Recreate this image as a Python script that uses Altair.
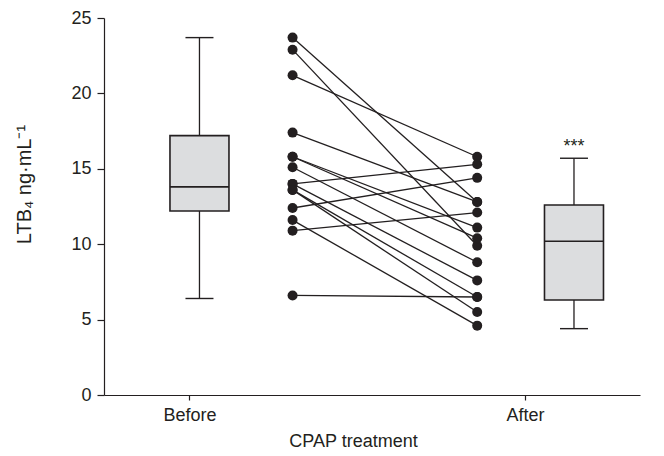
import altair as alt
import pandas as pd

# ---- data ----
groups = ["Before", "After"]
before = [23.7, 22.9, 21.2, 17.4, 15.8, 15.8, 15.1, 14.0, 14.0, 13.6, 13.6, 12.4, 11.6, 10.9, 6.6]
after = [12.8, 9.9, 15.8, 12.8, 11.1, 10.4, 8.8, 15.3, 7.6, 6.5, 5.5, 14.4, 4.6, 12.1, 6.5]

box_min = [6.4, 4.4]
box_q1 = [12.2, 6.3]
box_median = [13.8, 10.2]
box_q3 = [17.2, 12.6]
box_max = [23.7, 15.7]
significance = ["", "***"]

y_ticks = [0, 5, 10, 15, 20, 25]

# ---- layout (positions on a 0-100 horizontal layout scale) ----
X_TICKS = [15.3, 79.1]
X_BOX = [17.2, 88.4]
X_DOT = [34.9, 70.0]

INK = "#231f20"
FILL = "#dcdddf"
FONT = "Liberation Sans"

box_df = pd.DataFrame({
    "group": groups, "xpos": X_BOX, "min": box_min, "q1": box_q1,
    "median": box_median, "q3": box_q3, "max": box_max, "sig": significance,
})

rows = []
for i, (b, a) in enumerate(zip(before, after)):
    rows.append({"subject": i, "x": X_DOT[0], "value": b})
    rows.append({"subject": i, "x": X_DOT[1], "value": a})
pair_df = pd.DataFrame(rows)

xscale = alt.Scale(domain=[0, 100])
yscale = alt.Scale(domain=[0, 25], nice=False)

x_axis = alt.Axis(
    values=X_TICKS, labelExpr="datum.value < 50 ? 'Before' : 'After'",
    title="CPAP treatment", grid=False, tickSize=5, labelPadding=6,
    titleX=249, titleY=46, titleBaseline="middle", titleAlign="center",
)
y_axis = alt.Axis(
    values=y_ticks, title="LTB₄ ng·mL⁻¹", grid=False, tickSize=7, labelPadding=6,
    titleX=-80, titleY=166, titleAngle=-90, titleBaseline="middle", titleAlign="center",
    titleFontSize=20,
)

base_box = alt.Chart(box_df)

whisker = base_box.mark_rule(color=INK, strokeWidth=1.3).encode(
    x=alt.X("xpos:Q", scale=xscale, axis=x_axis),
    y=alt.Y("min:Q", scale=yscale, axis=y_axis),
    y2="max:Q",
)
box = base_box.mark_bar(size=59, fill=FILL, stroke=INK, strokeWidth=1.6).encode(
    x=alt.X("xpos:Q", scale=xscale),
    y=alt.Y("q1:Q", scale=yscale),
    y2="q3:Q",
)
median = base_box.mark_rule(color=INK, strokeWidth=1.6, xOffset=-29.5, x2Offset=29.5).encode(
    x=alt.X("xpos:Q", scale=xscale), x2="xpos:Q",
    y=alt.Y("median:Q", scale=yscale),
)
cap_lo = base_box.mark_rule(color=INK, strokeWidth=1.4, xOffset=-14, x2Offset=14).encode(
    x=alt.X("xpos:Q", scale=xscale), x2="xpos:Q",
    y=alt.Y("min:Q", scale=yscale),
)
cap_hi = base_box.mark_rule(color=INK, strokeWidth=1.4, xOffset=-14, x2Offset=14).encode(
    x=alt.X("xpos:Q", scale=xscale), x2="xpos:Q",
    y=alt.Y("max:Q", scale=yscale),
)
stars = base_box.mark_text(color=INK, font=FONT, fontSize=18, dy=-11, baseline="middle").encode(
    x=alt.X("xpos:Q", scale=xscale),
    y=alt.Y("max:Q", scale=yscale),
    text="sig:N",
)

lines = alt.Chart(pair_df).mark_line(color=INK, strokeWidth=1.3).encode(
    x=alt.X("x:Q", scale=xscale),
    y=alt.Y("value:Q", scale=yscale),
    detail="subject:N",
)
dots = alt.Chart(pair_df).mark_circle(color=INK, size=100, opacity=1).encode(
    x=alt.X("x:Q", scale=xscale),
    y=alt.Y("value:Q", scale=yscale),
)

chart = alt.layer(whisker, box, median, cap_lo, cap_hi, lines, dots, stars).properties(
    width=536, height=377,
    autosize=alt.AutoSizeParams(type="none"),
    padding={"left": 96, "top": 10, "right": 12, "bottom": 58},
).configure_view(stroke=None).configure_axis(
    domainColor=INK, tickColor=INK, labelColor=INK, titleColor=INK,
    labelFont=FONT, titleFont=FONT, labelFontSize=18, titleFontSize=18,
    titleFontWeight="normal", domainWidth=1.2, tickWidth=1.2,
)

chart.save("out.html", embed_options={"renderer": "svg", "actions": False})
